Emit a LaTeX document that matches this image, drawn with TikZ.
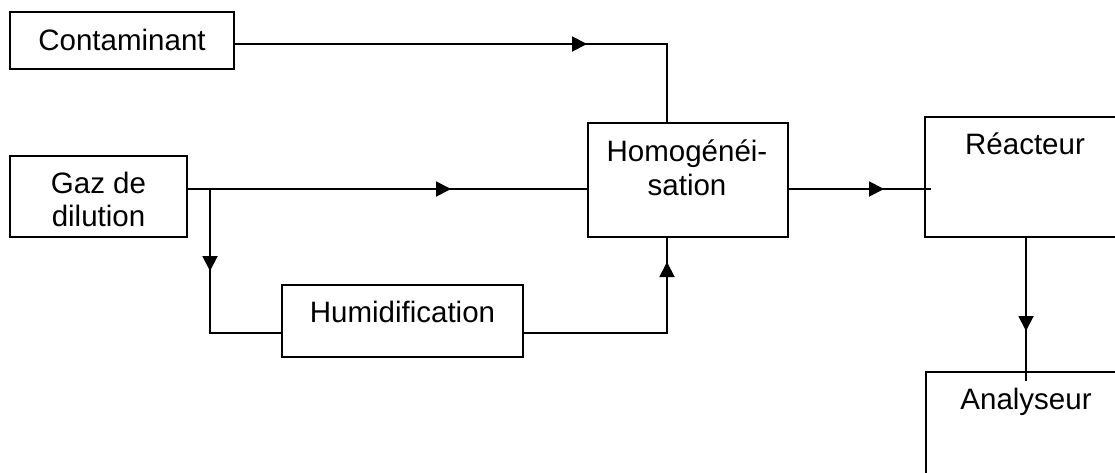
\documentclass[tikz,border=0pt]{standalone}
\usepackage{fontspec}
\setmainfont{Liberation Sans}
\usetikzlibrary{arrows.meta}
\tikzset{
  blk/.style={draw,line width=1.9pt,inner sep=0pt,rectangle},
  lbl/.style={anchor=base,inner sep=0pt,font=\fontsize{29.5}{34}\selectfont},
  conn/.style={line width=1.9pt},
  tipto/.style={line width=1.9pt,-{Triangle[length=15pt,width=15pt]}}
}
\begin{document}
\begin{tikzpicture}[x=1pt,y=-1pt]
\useasboundingbox (0,0) rectangle (1115,472);
\clip (0,0) rectangle (1115,472);
\fill[white] (0,0) rectangle (1115,472);
% boxes
\node[blk,minimum width=224pt,minimum height=57pt] (cont) at (122,40.5) {};
\node[blk,minimum width=177pt,minimum height=81pt] (gaz) at (98.5,196.5) {};
\node[blk,minimum width=241pt,minimum height=72pt] (hum) at (402.5,321) {};
\node[blk,minimum width=200pt,minimum height=114pt] (homog) at (688,180) {};
\node[blk,minimum width=300pt,minimum height=120pt] (react) at (1075,177) {};
\node[blk,minimum width=300pt,minimum height=200pt] (anal) at (1076,472) {};
% texts
\node[lbl] (conttxt) at (122,50) {Contaminant};
\node[lbl] (gaztxta) at (98.5,193) {Gaz de};
\node[lbl] (gaztxtb) at (98.5,226) {dilution};
\node[lbl] (humtxt) at (402.5,322) {Humidification};
\node[lbl] (homtxta) at (687,161) {Homogénéi-};
\node[lbl] (homtxtb) at (687,195) {sation};
\node[lbl] (reacttxt) at (1025,154) {Réacteur};
\node[lbl] (analtxt) at (1026,409) {Analyseur};
% junction coordinates and arrow tips
\coordinate (c1) at (cont.east |- 0,44);
\coordinate (c2) at (667,44);
\coordinate (ct) at (587,44);
\coordinate (g1) at (gaz.east |- 0,189);
\coordinate (gt) at (451,189);
\coordinate (br) at (210,189);
\coordinate (brt) at (210,271);
\coordinate (br2) at (210,333);
\coordinate (h1) at (hum.east |- 0,333);
\coordinate (h2) at (667,333);
\coordinate (ht) at (667,262);
\coordinate (o1) at (homog.east |- 0,189);
\coordinate (ot) at (884,189);
\coordinate (o2) at (931,189);
\coordinate (r1) at (1026,237);
\coordinate (rt) at (1026,331);
\coordinate (r2) at (1026,381);
% connectors
\draw[conn] (c1) -- (c2) -- (c2 |- homog.north);
\draw[tipto] (c1) -- (ct);
\draw[conn] (g1) -- (g1 -| homog.west);
\draw[tipto] (g1) -- (gt);
\draw[conn] (br) -- (br2) -- (br2 -| hum.west);
\draw[tipto] (br) -- (brt);
\draw[conn] (h1) -- (h2) -- (h2 |- homog.south);
\draw[tipto] (h2) -- (ht);
\draw[conn] (o1) -- (o2);
\draw[tipto] (o1) -- (ot);
\draw[conn] (r1 |- react.south) -- (r2);
\draw[tipto] (r1 |- react.south) -- (rt);
\end{tikzpicture}
\end{document}
